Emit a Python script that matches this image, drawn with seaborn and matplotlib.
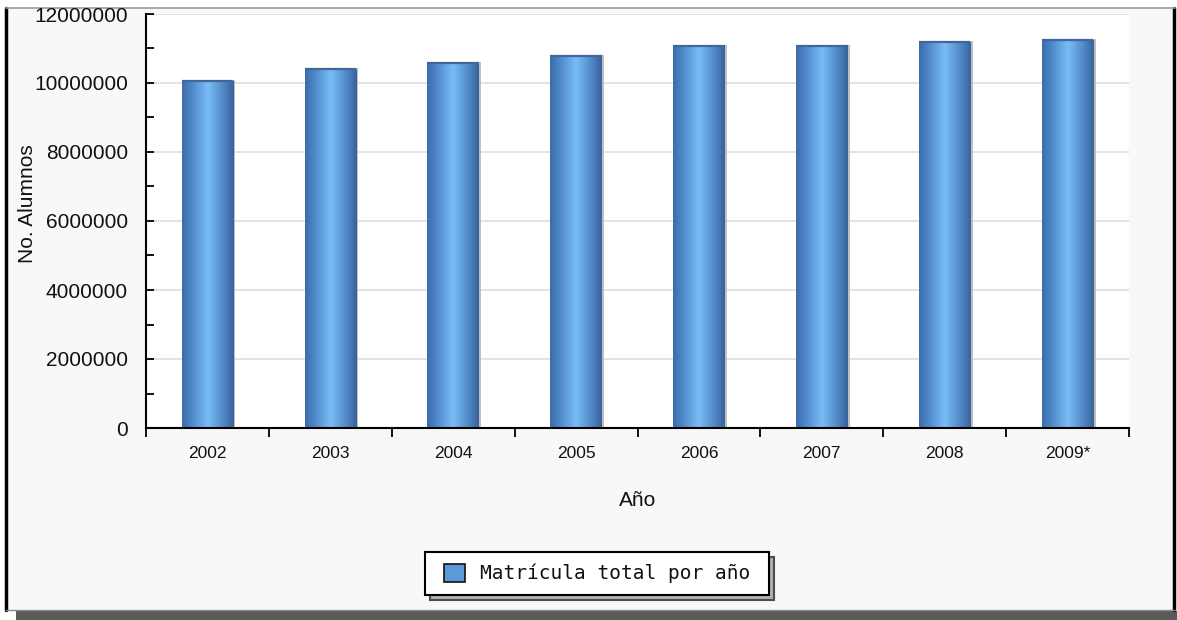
import numpy as np
import matplotlib
matplotlib.use("Agg")
import matplotlib.pyplot as plt
import matplotlib.ticker as mticker
import matplotlib.patheffects as pe
from matplotlib.colors import LinearSegmentedColormap
from matplotlib.patches import Rectangle
from matplotlib.lines import Line2D
from matplotlib.path import Path
import seaborn as sns

# Enrolment per school year
anios = ["2002", "2003", "2004", "2005", "2006", "2007", "2008", "2009*"]
matricula = [10060000, 10400000, 10570000, 10790000, 11080000, 11070000, 11190000, 11250000]
serie = "Matrícula total por año"

sns.set_theme(style="white")
plt.rcParams["font.family"] = ["Liberation Sans", "DejaVu Sans"]

W, H = 1177, 620
fig = plt.figure(figsize=(W / 100, H / 100), dpi=100, facecolor="white")


def fx(px):
    return px / W


def fy(py):
    return 1 - py / H


# panel background, borders and drop shadow (kept behind the axes)
fig.patches.append(Rectangle((fx(16), fy(620)), fx(1161), 9 / H, transform=fig.transFigure,
                             facecolor="#5a5a5a", edgecolor="none", zorder=-3))
fig.patches.append(Rectangle((fx(6), fy(610)), fx(1168), (610 - 8) / H, transform=fig.transFigure,
                             facecolor="#f8f8f8", edgecolor="none", zorder=-3))
fig.lines.append(Line2D([fx(6), fx(6)], [fy(8), fy(610)], transform=fig.transFigure,
                        color="black", lw=2.5, zorder=-2))
fig.lines.append(Line2D([fx(1174), fx(1174)], [fy(8), fy(610)], transform=fig.transFigure,
                        color="black", lw=2.5, zorder=-2))
fig.lines.append(Line2D([fx(6), fx(1175)], [fy(8), fy(8)], transform=fig.transFigure,
                        color="#999999", lw=1.2, zorder=-2))
fig.lines.append(Line2D([fx(6), fx(1175)], [fy(609.5), fy(609.5)], transform=fig.transFigure,
                        color="#888888", lw=1.0, zorder=-2))

ax = fig.add_axes([fx(146), fy(428), fx(1129 - 146), (428 - 14) / H])
ax.set_facecolor("white")
ax.set_axisbelow(True)

sns.barplot(x=anios, y=matricula, color="#5b96d6", width=0.42, ax=ax,
            edgecolor="none", saturation=1)

cyl = LinearSegmentedColormap.from_list(
    "cyl", [(0.0, "#3d6caa"), (0.15, "#4a82c4"), (0.5, "#79bdf7"),
            (0.85, "#4a7fbd"), (1.0, "#3a6299")])
grad = np.linspace(0, 1, 256).reshape(1, -1)

for bar in ax.patches:
    bar.set_path_effects([pe.SimplePatchShadow(offset=(1.6, 0.8), shadow_rgbFace="#b8b8b8",
                                               alpha=0.9), pe.Normal()])
    x0, w, h = bar.get_x(), bar.get_width(), bar.get_height()
    im = ax.imshow(grad, extent=[x0, x0 + w, 0, h], aspect="auto", cmap=cyl,
                   zorder=bar.get_zorder() + 0.1, interpolation="bilinear")
    im.set_clip_path(bar)
    ax.plot([x0, x0 + w], [h, h], color="#41679a", lw=1.6,
            zorder=bar.get_zorder() + 0.2, solid_capstyle="butt")

ax.set_xlim(-0.5, len(anios) - 0.5)
ax.set_ylim(0, 12000000)

# y axis: inward ticks, labels in plain integers
ax.yaxis.set_major_locator(mticker.MultipleLocator(2000000))
ax.yaxis.set_minor_locator(mticker.MultipleLocator(1000000))
ax.yaxis.set_major_formatter(mticker.StrMethodFormatter("{x:.0f}"))
ax.tick_params(axis="y", which="both", direction="in", length=6, width=1.3,
               color="black", left=True, pad=13, labelsize=15, labelcolor="#111111")
ax.grid(axis="y", which="major", color="#dedede", lw=1.2)
ax.grid(axis="x", visible=False)

# x axis: ticks on the category boundaries, labels centred
ax.set_xticks(np.arange(len(anios)))
ax.set_xticklabels(anios)
ax.set_xticks(np.arange(len(anios) + 1) - 0.5, minor=True)
ax.tick_params(axis="x", which="major", length=0, pad=13, labelsize=12.5, labelcolor="#111111")
ax.tick_params(axis="x", which="minor", direction="out", length=6.5, width=1.3,
               color="black", bottom=True)

for side in ("top", "right"):
    ax.spines[side].set_visible(False)
for side in ("left", "bottom"):
    ax.spines[side].set_color("black")
    ax.spines[side].set_linewidth(1.5)

ax.set_xlabel("Año", fontsize=15, color="#111111")
ax.set_ylabel("No. Alumnos", fontsize=15, color="#111111")
ax.xaxis.set_label_coords(0.5005, -0.174)
ax.xaxis.label.set_va("center")
ax.yaxis.set_label_coords(-0.121, 0.541)
ax.yaxis.label.set_va("center")


def wide_box(x0, y0, width, height, mutation_size):
    """Square legend frame with extra horizontal padding."""
    px, py = 0.45 * mutation_size, 0.05 * mutation_size
    x0, x1 = x0 - px, x0 + width + px
    y0, y1 = y0 - py, y0 + height + py
    return Path([(x0, y0), (x1, y0), (x1, y1), (x0, y1), (x0, y0)], closed=True)


handle = Rectangle((0, 0), 1, 1, facecolor="#5b9ad8", edgecolor="#111111", lw=1.2)
leg = fig.legend([handle], [serie], loc="center", bbox_to_anchor=(fx(597), fy(573.5)),
                 prop={"family": "DejaVu Sans Mono", "size": 14},
                 frameon=True, fancybox=False, handlelength=1.08, handleheight=1.08,
                 handletextpad=0.75, borderpad=0.55,
                 shadow={"facecolor": "#b0b0b0", "alpha": 1, "ox": 3.5, "oy": -3.5})
frame = leg.get_frame()
frame.set_boxstyle(wide_box)
frame.set_edgecolor("black")
frame.set_linewidth(1.5)
frame.set_facecolor("white")
frame.set_alpha(1)
for t in leg.get_texts():
    t.set_color("#111111")

fig.savefig("out.png", dpi=100, facecolor="white")
